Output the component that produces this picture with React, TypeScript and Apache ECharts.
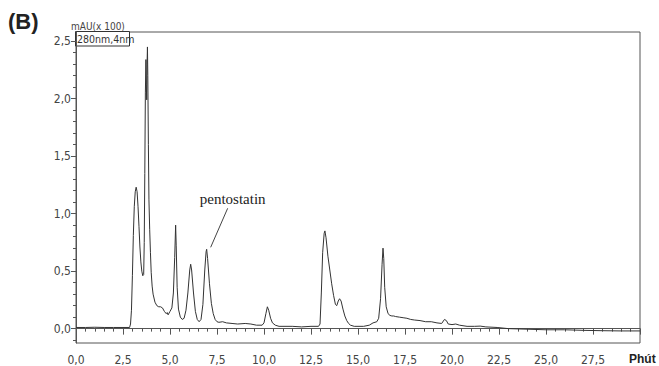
import React, { useEffect, useRef } from "react";
import * as echarts from "echarts";

// Retention time (min)
const times = [
  0.0, 0.5, 1.0, 1.5, 2.0, 2.5, 2.85, 2.9, 2.95, 3.0, 3.05, 3.1, 3.15, 3.2, 3.25, 3.3, 3.35, 3.4, 3.45, 3.5,
  3.55, 3.6, 3.63, 3.66, 3.69, 3.72, 3.74, 3.76, 3.78, 3.8, 3.82, 3.85, 3.88, 3.92, 3.96, 4.0, 4.05, 4.1,
  4.2, 4.3, 4.4, 4.5, 4.6, 4.7, 4.8, 4.85, 4.9, 5.0, 5.1, 5.18, 5.25, 5.3, 5.33, 5.38, 5.45, 5.55, 5.65,
  5.75, 5.85, 5.95, 6.05, 6.1, 6.15, 6.25, 6.35, 6.45, 6.55, 6.65, 6.75, 6.85, 6.92, 6.95, 7.0, 7.1, 7.2,
  7.3, 7.4, 7.5, 7.6, 7.8, 8.0, 8.3, 8.6, 9.0, 9.3, 9.6, 9.9, 10.0, 10.1, 10.18, 10.25, 10.35, 10.45,
  10.6, 10.8, 11.5, 12.0, 12.5, 12.9, 12.98, 13.05, 13.12, 13.2, 13.24, 13.3, 13.4, 13.5, 13.6, 13.7,
  13.8, 13.87, 13.95, 14.02, 14.1, 14.2, 14.3, 14.4, 14.5, 14.6, 14.8, 15.0, 15.3, 15.6, 15.8, 16.0,
  16.1, 16.2, 16.28, 16.33, 16.37, 16.42, 16.5, 16.6, 16.7, 16.8, 16.9, 17.0, 17.2, 17.4, 17.6, 17.8,
  18.0, 18.3, 18.6, 18.9, 19.2, 19.45, 19.6, 19.7, 19.8, 20.0, 20.2, 20.4, 20.8, 21.2, 21.5, 21.8, 22.4,
  23.0, 24.0, 25.0, 26.0, 27.0, 28.0, 29.0, 30.0,
];

// Absorbance, mAU (x 100)
const absorbance = [
  0.01, 0.01, 0.012, 0.01, 0.01, 0.01, 0.01, 0.04, 0.16, 0.46, 0.81, 1.06, 1.19, 1.23, 1.19, 1.06, 0.89, 0.71, 0.58, 0.5,
  0.46, 0.47, 0.75, 1.35, 2.05, 2.34, 2.12, 1.99, 2.3, 2.45, 2.2, 1.6, 1.12, 0.86, 0.66, 0.49, 0.37, 0.3,
  0.23, 0.2, 0.19, 0.19, 0.18, 0.15, 0.13, 0.14, 0.12, 0.15, 0.18, 0.31, 0.62, 0.9, 0.72, 0.36, 0.17, 0.1, 0.08,
  0.09, 0.16, 0.31, 0.51, 0.56, 0.51, 0.31, 0.15, 0.08, 0.06, 0.08, 0.21, 0.51, 0.67, 0.69, 0.61, 0.39, 0.22,
  0.13, 0.08, 0.06, 0.055, 0.06, 0.05, 0.045, 0.04, 0.045, 0.04, 0.03, 0.03, 0.05, 0.13, 0.19, 0.16, 0.09, 0.05,
  0.03, 0.02, 0.02, 0.015, 0.02, 0.02, 0.04, 0.31, 0.66, 0.83, 0.85, 0.79, 0.63, 0.51, 0.39, 0.29,
  0.21, 0.2, 0.24, 0.26, 0.24, 0.17, 0.11, 0.07, 0.045, 0.03, 0.02, 0.02, 0.02, 0.03, 0.05, 0.06,
  0.09, 0.26, 0.56, 0.7, 0.61, 0.36, 0.19, 0.13, 0.115, 0.11, 0.11, 0.105, 0.1, 0.095, 0.09, 0.08,
  0.075, 0.07, 0.06, 0.06, 0.05, 0.045, 0.08, 0.07, 0.04, 0.035, 0.04, 0.03, 0.02, 0.02, 0.022, 0.015, 0.01,
  0.0, -0.005, -0.01, -0.01, -0.015, -0.018, -0.02, -0.02,
];

const yLabelValues = [0, 0.5, 1.0, 1.5, 2.0, 2.5];
const yMinorTickValues = [
  -0.1, 0.1, 0.2, 0.3, 0.4, 0.6, 0.7, 0.8, 0.9, 1.1, 1.2, 1.3, 1.4, 1.6, 1.7, 1.8, 1.9, 2.1, 2.2, 2.3, 2.4,
];

const pentostatinPeak = [6.95, 0.69];

const NARROW = "'Liberation Sans Narrow', 'Arial Narrow', 'DejaVu Sans Condensed', sans-serif";
const AXIS = "#555";
const fmt = (v: number) => v.toFixed(1).replace(".", ",");

export default function App() {
  const ref = useRef<HTMLDivElement>(null);
  useEffect(() => {
    document.body.style.margin = "0";
    const chart = echarts.init(ref.current!, undefined, { renderer: "svg" });
    const data = times.map((t, i) => [t, absorbance[i]]);
    chart.setOption({
      animation: false,
      grid: { left: 76, right: 19, top: 32, bottom: 23, show: true, borderColor: AXIS, borderWidth: 1 },
      xAxis: {
        type: "value",
        min: 0,
        max: 30,
        interval: 2.5,
        axisLine: { show: true, lineStyle: { color: AXIS, width: 1 } },
        axisTick: { show: true, length: 6, lineStyle: { color: AXIS } },
        minorTick: { show: true, splitNumber: 5, length: 3, lineStyle: { color: AXIS } },
        splitLine: { show: false },
        axisLabel: {
          margin: 11,
          color: "#444",
          fontFamily: NARROW,
          fontSize: 12,
          formatter: (v: number) => (v >= 30 ? "" : fmt(v)),
        },
      },
      yAxis: [
        {
          type: "value",
          min: -0.125,
          max: 2.58,
          position: "left",
          axisLine: { show: true, lineStyle: { color: AXIS, width: 1 } },
          axisTick: { show: true, length: 5, customValues: yLabelValues, lineStyle: { color: AXIS } },
          splitLine: { show: false },
          axisLabel: {
            customValues: yLabelValues,
            margin: 5,
            color: "#444",
            fontFamily: NARROW,
            fontSize: 12,
            formatter: (v: number) => fmt(v),
          },
        },
        {
          type: "value",
          min: -0.125,
          max: 2.58,
          position: "left",
          axisLine: { show: false },
          axisTick: { show: true, length: 3, customValues: yMinorTickValues, lineStyle: { color: AXIS } },
          axisLabel: { show: false },
          splitLine: { show: false },
        },
      ],
      series: [
        {
          type: "line",
          data,
          showSymbol: false,
          symbol: "none",
          yAxisIndex: 0,
          lineStyle: { color: "#333", width: 1 },
        },
      ],
    });

    const peak = chart.convertToPixel({ gridIndex: 0 }, pentostatinPeak) as number[];
    chart.setOption({
      graphic: [
        {
          type: "text",
          left: 8,
          top: 10,
          style: { text: "(B)", font: "bold 22px 'Liberation Sans', Arial, sans-serif", fill: "#222" },
        },
        {
          type: "text",
          left: 71,
          top: 21,
          style: { text: "mAU(x 100)", font: `10px ${NARROW}`, fill: "#444" },
        },
        {
          type: "rect",
          shape: { x: 75.5, y: 31.5, width: 54, height: 14.5 },
          style: { fill: "#fff", stroke: "#333", lineWidth: 1 },
        },
        {
          type: "text",
          left: 77,
          top: 33.5,
          style: { text: "280nm,4nm", font: `10.5px ${NARROW}`, fill: "#333" },
        },
        {
          type: "text",
          left: 629,
          top: 353,
          style: { text: "Phút", font: "bold 12px 'Liberation Sans', Arial, sans-serif", fill: "#222" },
        },
        {
          type: "text",
          x: peak[0] + 26,
          y: peak[1] - 50,
          style: {
            text: "pentostatin",
            font: "15px 'Liberation Serif', 'Times New Roman', serif",
            fill: "#222",
            align: "center",
            verticalAlign: "middle",
          },
        },
        {
          type: "line",
          shape: { x1: peak[0] + 21, y1: peak[1] - 41, x2: peak[0] + 4, y2: peak[1] - 2 },
          style: { stroke: "#444", lineWidth: 1 },
        },
      ],
    });
    return () => chart.dispose();
  }, []);
  return <div ref={ref} style={{ width: 659, height: 366, position: "absolute", left: 0, top: 0 }} />;
}
